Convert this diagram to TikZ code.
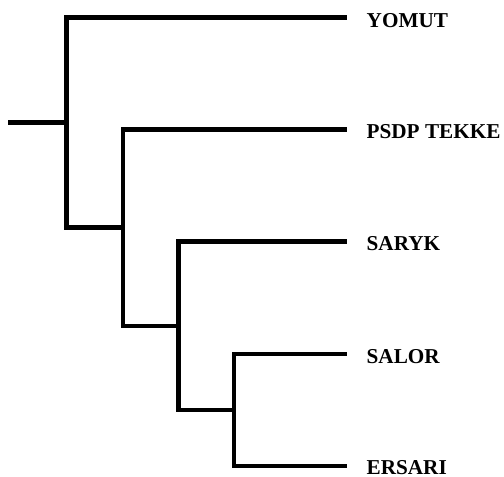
\documentclass[tikz,border=0pt]{standalone}
\usepackage{fontspec}
\setmainfont{Liberation Serif}
\begin{document}
\begin{tikzpicture}[x=1pt,y=-1pt,
  branch/.style={line width=4.5pt,line join=miter,line cap=butt},
  taxon/.style={anchor=base west,inner sep=0pt,font=\fontsize{21.2}{25}\selectfont\bfseries}]
\useasboundingbox (0,0) rectangle (504,477);
% internal nodes
\coordinate (root) at (8,122.5);
\coordinate (n1) at (66.5,122.5);
\coordinate (n2) at (123,227.6);
\coordinate (n3) at (178.5,325.8);
\coordinate (n4) at (234,410);
% leaf tips
\coordinate (tYOMUT) at (347,17.5);
\coordinate (tPSDP) at (347,129.5);
\coordinate (tSARYK) at (347,241.5);
\coordinate (tSALOR) at (347,354);
\coordinate (tERSARI) at (347,466);
% labels
\node[taxon] (lYOMUT) at (366.5,27) {YOMUT};
\node[taxon] (lPSDP) at (366.5,138.5) {PSDP TEKKE};
\node[taxon] (lSARYK) at (366.5,250.5) {SARYK};
\node[taxon] (lSALOR) at (366.5,363) {SALOR};
\node[taxon] (lERSARI) at (366.5,474.5) {ERSARI};
% branches
\draw[branch] (root) -- (n1);
\draw[branch] (n1) |- (tYOMUT);
\draw[branch] (n1) |- (n2);
\draw[branch] (n2) |- (tPSDP);
\draw[branch] (n2) |- (n3);
\draw[branch] (n3) |- (tSARYK);
\draw[branch] (n3) |- (n4);
\draw[branch] (n4) |- (tSALOR);
\draw[branch] (n4) |- (tERSARI);
\end{tikzpicture}
\end{document}
